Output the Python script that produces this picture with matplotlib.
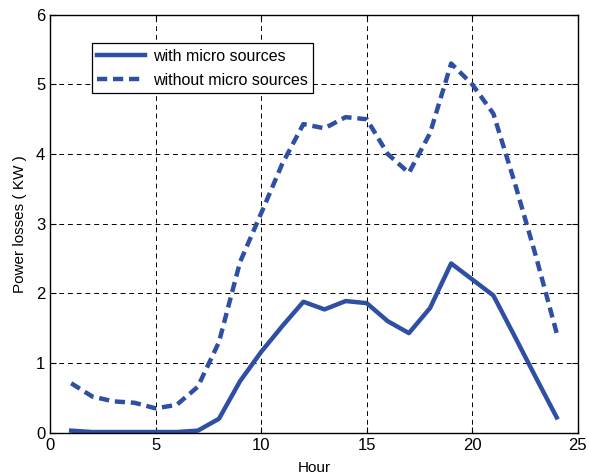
import matplotlib
matplotlib.use("Agg")
import matplotlib.pyplot as plt

hours = list(range(1, 25))
with_micro = [0.03, 0.01, 0.01, 0.01, 0.01, 0.01, 0.03, 0.20, 0.74, 1.16, 1.53, 1.88,
              1.77, 1.89, 1.86, 1.60, 1.43, 1.79, 2.43, 2.20, 1.97, 1.39, 0.80, 0.22]
without_micro = [0.71, 0.52, 0.45, 0.43, 0.35, 0.40, 0.66, 1.30, 2.45, 3.15, 3.86, 4.43,
                 4.37, 4.53, 4.50, 4.00, 3.73, 4.30, 5.30, 5.00, 4.58, 3.60, 2.55, 1.43]
xticks = [0, 5, 10, 15, 20, 25]
yticks = [0, 1, 2, 3, 4, 5, 6]

plt.rcParams['font.family'] = ['Liberation Sans', 'DejaVu Sans']
color = '#2F4FA2'

fig = plt.figure(figsize=(5.89, 4.75), dpi=100)
ax = fig.add_axes([0.085, 0.089, 0.896, 0.880])
ax.plot(hours, with_micro, '-', color=color, lw=3.2, label='with micro sources')
ax.plot(hours, without_micro, '--', color=color, lw=3.2, dashes=(2.3, 1.3),
        label='without micro sources')
ax.set_xlim(0, 25)
ax.set_ylim(0, 6)
ax.set_xticks(xticks)
ax.set_yticks(yticks)
ax.tick_params(direction='in', which='both', top=True, right=True, labelsize=12,
               length=4, width=0.8)
ax.grid(True, color='black', linestyle=(0, (5, 4)), linewidth=0.7)
for s in ax.spines.values():
    s.set_linewidth(1.0)
ax.set_xlabel('Hour', fontsize=11, labelpad=6)
ax.set_ylabel('Power losses ( KW )', fontsize=11, labelpad=6)
leg = ax.legend(loc='upper left', bbox_to_anchor=(0.156, 0.909),
                bbox_transform=fig.transFigure, fontsize=11.5, frameon=True,
                fancybox=False, edgecolor='black', framealpha=1, handlelength=3.0,
                borderpad=0.35, labelspacing=0.55, handletextpad=0.45,
                borderaxespad=0)
leg.get_frame().set_linewidth(0.9)
fig.savefig('out.png', dpi=100)
